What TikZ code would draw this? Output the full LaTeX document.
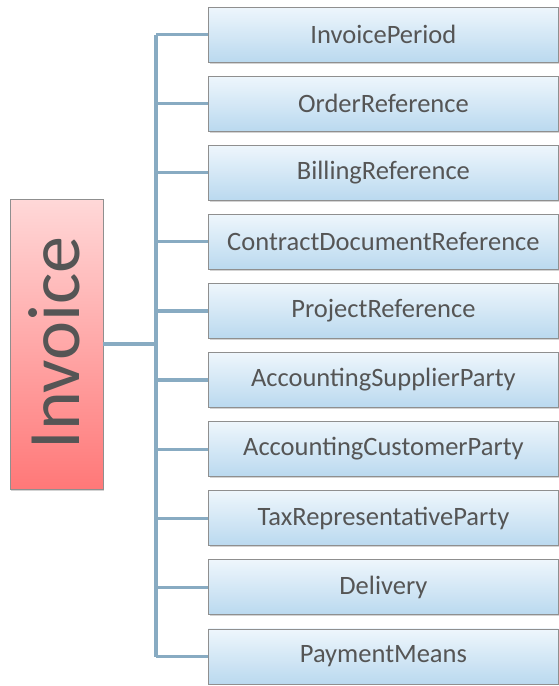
\documentclass[tikz,border=0pt]{standalone}
\usepackage{fontspec}
\setmainfont{Carlito}
\usetikzlibrary{shadows}
\definecolor{txt}{HTML}{555555}
\definecolor{bluetop}{HTML}{EEF6FC}
\definecolor{bluebot}{HTML}{BAD9EF}
\definecolor{redtop}{HTML}{FFD8D8}
\definecolor{redbot}{HTML}{FF7878}
\definecolor{edge}{HTML}{8F8F8F}
\definecolor{conn}{HTML}{88ABC2}
\tikzset{
  childbox/.style={draw=edge, line width=0.8pt, top color=bluetop, bottom color=bluebot,
    minimum width=350pt, minimum height=55pt, inner sep=0pt, anchor=west,
    font=\fontsize{26.5}{30}\selectfont, text=txt,
    drop shadow={shadow xshift=1.2pt, shadow yshift=-1.5pt, opacity=0.35}},
  rootbox/.style={draw=edge, line width=0.8pt, top color=redtop, bottom color=redbot,
    minimum width=93pt, minimum height=290pt, inner sep=0pt,
    drop shadow={shadow xshift=1.2pt, shadow yshift=-1.5pt, opacity=0.35}},
  link/.style={draw=conn, line width=3.2pt}
}
\begin{document}
\begin{tikzpicture}[x=1pt,y=1pt]
\useasboundingbox (0,0) rectangle (559,-686);
\node[rootbox] (inv) at (56.5,-344) {};
\node[rotate=90, text=txt, font=\fontsize{74}{80}\selectfont] (invtxt) at (54,-343) {Invoice};
\coordinate (trunktop) at (156,-34.5);
\coordinate (trunkbot) at (156,-656.5);
\coordinate (trunkmid) at (156,-344);
\foreach \n/\t [count=\i from 0] in {c0/InvoicePeriod, c1/OrderReference, c2/BillingReference,
  c3/ContractDocumentReference, c4/ProjectReference, c5/AccountingSupplierParty,
  c6/AccountingCustomerParty, c7/TaxRepresentativeParty, c8/Delivery, c9/PaymentMeans}{
  \node[childbox] (\n) at (208,{-34.5-69.1*\i}) {\t};
}
\draw[link] (trunktop) -- (trunkbot);
\draw[link] (inv.east) -- (trunkmid);
\foreach \n in {c0,c1,c2,c3,c4,c5,c6,c7,c8,c9}{
  \draw[link] (\n.west) -- (\n.west -| trunkmid);
}
\end{tikzpicture}
\end{document}
